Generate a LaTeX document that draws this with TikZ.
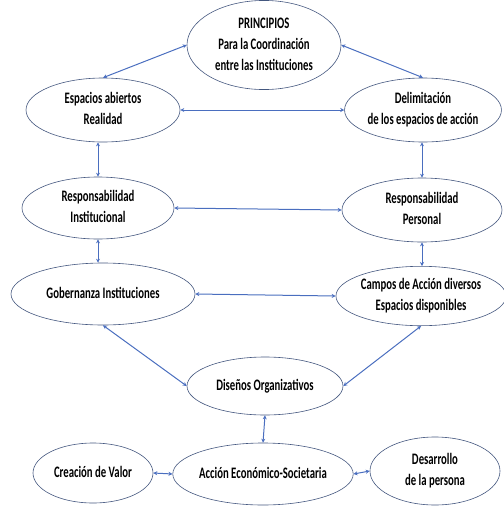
\documentclass[tikz,border=0pt]{standalone}
\usepackage{fontspec}
\setmainfont{Carlito}
\usetikzlibrary{shapes.geometric,arrows.meta}
\definecolor{edgeblue}{HTML}{44577F}
\definecolor{arrblue}{HTML}{4A6EBF}
\newcommand{\ntext}[1]{\scalebox{0.67}[1]{\begin{tabular}{@{}c@{}}#1\end{tabular}}}
\begin{document}
\begin{tikzpicture}[x=1pt,y=-1pt,
  bub/.style={ellipse,draw=edgeblue,line width=0.6pt,fill=white,inner sep=0pt,
    font=\bfseries\fontsize{16}{21}\selectfont},
  link/.style={draw=arrblue,line width=1pt,{Stealth[length=4pt,width=4pt]}-{Stealth[length=4pt,width=4pt]}}]
\useasboundingbox (0,0) rectangle (504,507);
\node[bub,minimum width=154pt,minimum height=80pt] (P) at (264,45) {\ntext{PRINCIPIOS\\Para la Coordinación\\entre las Instituciones}};
\node[bub,minimum width=154pt,minimum height=64pt] (E) at (103,110) {\ntext{Espacios abiertos\\Realidad}};
\node[bub,minimum width=152pt,minimum height=64pt] (D) at (423,110) {\ntext{Delimitación\\de los espacios de acción}};
\node[bub,minimum width=152pt,minimum height=62pt] (RI) at (98,208) {\ntext{Responsabilidad\\Institucional}};
\node[bub,minimum width=160pt,minimum height=64pt] (RP) at (422,210) {\ntext{Responsabilidad\\Personal}};
\node[bub,minimum width=184pt,minimum height=62pt] (G) at (103,294) {\ntext{Gobernanza Instituciones}};
\node[bub,minimum width=165pt,minimum height=58pt] (C) at (421,296) {\ntext{Campos de Acción diversos\\Espacios disponibles}};
\node[bub,minimum width=156pt,minimum height=58pt] (DO) at (265,386) {\ntext{Diseños Organizativos}};
\node[bub,minimum width=120pt,minimum height=60pt] (CV) at (93,473) {\ntext{Creación de Valor}};
\node[bub,minimum width=170pt,minimum height=62pt] (A) at (263,474) {\ntext{Acción Económico-Societaria}};
\node[bub,minimum width=130pt,minimum height=68pt] (DP) at (435,471) {\ntext{Desarrollo\\de la persona}};
\draw[link] (E.north) -- (P.west);
\draw[link] (P.east) -- (D.north);
\draw[link] (E.east) -- (D.west);
\draw[link] (RI.north) -- (RI.north |- E.south);
\draw[link] (RP.north) -- (RP.north |- D.south);
\draw[link] (RI.east) -- (RP.west);
\draw[link] (RI.south) -- (RI.south |- G.north);
\draw[link] (RP.south) -- (RP.south |- C.north);
\draw[link] (G.east) -- (C.west);
\draw[link] (G.south) -- (DO.west);
\draw[link] (C.south) -- (DO.east);
\draw[link] (DO.south) -- (A.north);
\draw[link] (CV.east) -- (A.west);
\draw[link] (A.east) -- (DP.west);
\end{tikzpicture}
\end{document}
